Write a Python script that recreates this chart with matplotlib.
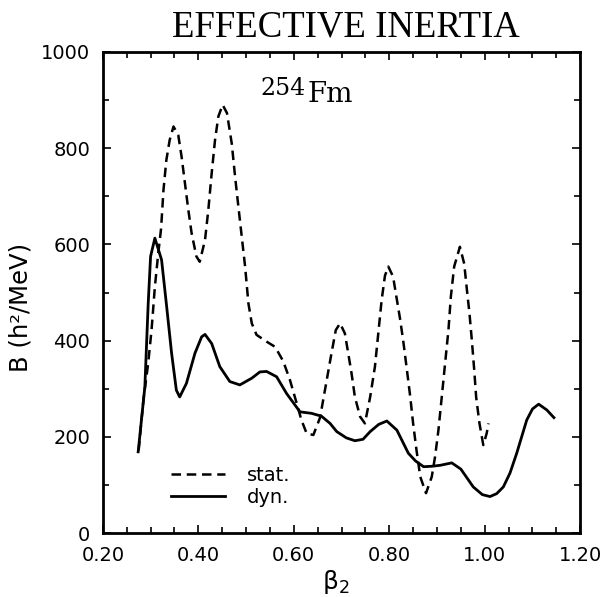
import matplotlib
matplotlib.use("Agg")
import matplotlib.pyplot as plt
from matplotlib.ticker import MultipleLocator, FormatStrFormatter

# ---- data ----
beta_dyn = [0.274, 0.288, 0.295, 0.300, 0.309, 0.323, 0.333, 0.344, 0.354, 0.361,
            0.375, 0.393, 0.407, 0.414, 0.428, 0.445, 0.466, 0.487, 0.512, 0.529,
            0.543, 0.564, 0.585, 0.613, 0.637, 0.658, 0.676, 0.690, 0.710, 0.728,
            0.745, 0.760, 0.778, 0.795, 0.816, 0.840, 0.855, 0.872, 0.890, 0.907,
            0.931, 0.950, 0.976, 0.995, 1.011, 1.025, 1.039, 1.053, 1.067, 1.088,
            1.100, 1.113, 1.130, 1.145]
B_dyn = [169, 304, 477, 575, 613, 568, 477, 374, 297, 283,
         311, 374, 408, 413, 394, 346, 315, 308, 322, 335,
         336, 325, 290, 252, 249, 243, 228, 211, 198, 192,
         195, 211, 226, 233, 214, 166, 150, 138, 139, 141,
         146, 133, 96, 80, 76, 82, 96, 125, 166, 235,
         258, 268, 256, 240]

beta_stat = [0.275, 0.285, 0.295, 0.302, 0.309, 0.316, 0.322, 0.327, 0.333, 0.340,
             0.348, 0.358, 0.365, 0.372, 0.379, 0.386, 0.396, 0.403, 0.414, 0.421,
             0.428, 0.435, 0.442, 0.451, 0.460, 0.470, 0.477, 0.484, 0.491, 0.498,
             0.505, 0.512, 0.522, 0.543, 0.561, 0.578, 0.592, 0.606, 0.616, 0.627,
             0.641, 0.655, 0.669, 0.679, 0.688, 0.697, 0.707, 0.714, 0.721, 0.728,
             0.739, 0.749, 0.760, 0.770, 0.777, 0.784, 0.791, 0.798, 0.808, 0.815,
             0.823, 0.830, 0.837, 0.844, 0.850, 0.857, 0.865, 0.877, 0.889, 0.896,
             0.903, 0.910, 0.917, 0.924, 0.929, 0.936, 0.948, 0.957, 0.962, 0.968,
             0.973, 0.978, 0.982, 0.989, 0.997, 1.004, 1.008]
B_stat = [172, 277, 353, 422, 512, 581, 633, 713, 775, 817,
          845, 827, 782, 727, 672, 623, 575, 564, 609, 672,
          748, 817, 866, 890, 873, 810, 741, 678, 616, 554,
          477, 436, 412, 398, 387, 357, 318, 270, 235, 207,
          204, 240, 318, 374, 422, 436, 415, 374, 332, 283,
          242, 228, 283, 346, 415, 484, 535, 554, 533, 491,
          443, 394, 339, 283, 228, 173, 117, 83, 117, 159,
          214, 283, 353, 422, 491, 554, 595, 560, 512, 457,
          401, 339, 283, 228, 183, 207, 228]

series_labels = ["stat.", "dyn."]
x_ticks = [0.20, 0.40, 0.60, 0.80, 1.00, 1.20]
y_ticks = [0, 200, 400, 600, 800, 1000]

plt.rcParams['mathtext.fontset'] = 'dejavusans'

fig = plt.figure(figsize=(6.05, 5.97), dpi=100)
ax = fig.add_axes([0.170, 0.107, 0.789, 0.806])

ax.plot(beta_stat, B_stat, color='black', lw=1.8, linestyle=(0, (3.8, 2.3)),
        label=series_labels[0], solid_joinstyle='round')
ax.plot(beta_dyn, B_dyn, color='black', lw=2.0, label=series_labels[1],
        solid_joinstyle='round')

ax.set_xlim(0.2, 1.2)
ax.set_ylim(0, 1000)
ax.set_xticks(x_ticks)
ax.set_yticks(y_ticks)
ax.xaxis.set_major_formatter(FormatStrFormatter('%.2f'))
ax.xaxis.set_minor_locator(MultipleLocator(0.05))
ax.yaxis.set_minor_locator(MultipleLocator(100))
ax.tick_params(which='both', direction='in', top=True, right=True, width=1.2)
ax.tick_params(which='major', length=6)
ax.tick_params(which='minor', length=4)
ax.tick_params(axis='x', which='major', pad=9)
ax.tick_params(axis='y', which='major', pad=9)
for lab in ax.get_xticklabels() + ax.get_yticklabels():
    lab.set_fontfamily('DejaVu Sans')
    lab.set_fontsize(14)
for sp in ax.spines.values():
    sp.set_linewidth(2.0)

ax.set_xlabel(r'$\mathrm{\beta_2}$', fontsize=18)
ax.xaxis.set_label_coords(0.488, -0.072)
ax.set_ylabel('B (h²/MeV)', fontsize=17.5, family='DejaVu Sans')
ax.yaxis.set_label_coords(-0.148, 0.47)

fig.text(0.571, 0.955, 'EFFECTIVE INERTIA', family='Liberation Serif',
         fontsize=26.5, ha='center', va='center')
t_sup = ax.text(0.531, 911, '254', family='DejaVu Serif', fontsize=17,
                ha='left', va='baseline')
ax.annotate('Fm', xy=(1.0, 0.0), xycoords=t_sup, xytext=(1, -6),
            textcoords='offset points', family='DejaVu Serif', fontsize=20,
            ha='left', va='bottom')

leg = ax.legend(loc='lower left', bbox_to_anchor=(0.142, 0.055), frameon=False,
                fontsize=14, handlelength=2.8, handletextpad=1.1,
                labelspacing=0.15, borderpad=0, borderaxespad=0)

fig.savefig('out.png', dpi=100)
